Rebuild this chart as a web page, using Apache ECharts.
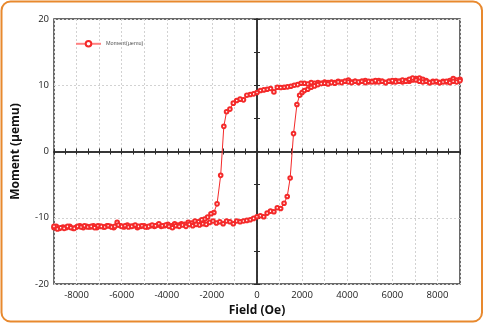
<!DOCTYPE html>
<html>
<head>
<meta charset="utf-8">
<script src="https://cdn.jsdelivr.net/npm/echarts@6/dist/echarts.min.js"></script>
<style>
  html, body { margin: 0; padding: 0; background: #ffffff; }
  #chart { width: 484px; height: 324px; }
</style>
</head>
<body>
<div id="chart"></div>
<script>
// Hysteresis loop: moment vs applied field.
// Descending branch (+9000 Oe -> -9000 Oe)
const upperField = [
  9000, 8850, 8700, 8550, 8400, 8250, 8100, 7950, 7800, 7650,
  7500, 7350, 7200, 7050, 6900, 6750, 6600, 6450, 6300, 6150,
  6000, 5850, 5700, 5550, 5400, 5250, 5100, 4950, 4800, 4650,
  4500, 4350, 4200, 4050, 3900, 3750, 3600, 3450, 3300, 3150,
  3000, 2850, 2700, 2550, 2400, 2250, 2100, 1950, 1800, 1650,
  1500, 1350, 1200, 1050, 900, 750, 600, 450, 300, 150,
  0, -150, -300, -450, -600, -750, -900, -1050, -1200, -1350,
  -1470, -1610, -1770, -1910, -2040, -2190, -2320, -2450, -2600, -2750,
  -2900, -3050, -3200, -3350, -3500, -3650, -3800, -3950, -4100, -4250,
  -4400, -4550, -4700, -4850, -5000, -5150, -5300, -5450, -5600, -5750,
  -5900, -6050, -6200, -6350, -6500, -6650, -6800, -6950, -7100, -7250,
  -7400, -7550, -7700, -7850, -8000, -8150, -8300, -8450, -8600, -8750,
  -8900, -9000
];
const upperMoment = [
  10.9, 10.8, 11.0, 10.7, 10.5, 10.6, 10.4, 10.5, 10.6, 10.4,
  10.7, 10.9, 11.1, 11.0, 10.8, 10.6, 10.7, 10.5, 10.6, 10.7,
  10.5, 10.6, 10.4, 10.6, 10.7, 10.5, 10.6, 10.5, 10.7, 10.6,
  10.4, 10.6, 10.5, 10.8, 10.6, 10.5, 10.6, 10.4, 10.5, 10.4,
  10.5, 10.3, 10.4, 10.3, 10.4, 10.2, 10.3, 10.3, 10.1, 10.0,
  9.85, 9.75, 9.7, 9.65, 9.7, 9.0, 9.5, 9.4, 9.3, 9.2,
  8.9, 8.7, 8.6, 8.5, 7.8, 7.9, 7.7, 7.3, 6.4, 6.0,
  3.8, -3.6, -7.9, -9.2, -9.4, -9.9, -10.2, -10.3, -10.6, -10.5,
  -10.8, -10.7, -11.0, -10.9, -11.1, -10.9, -11.2, -11.0, -11.2, -11.3,
  -11.1, -11.3, -11.2, -11.4, -11.2, -11.3, -11.5, -11.2, -11.3, -11.1,
  -11.4, -11.2, -10.7, -11.5, -11.3, -11.2, -11.4, -11.3, -11.5, -11.2,
  -11.4, -11.3, -11.5, -11.2, -11.4, -11.6, -11.3, -11.5, -11.4, -11.6,
  -11.3, -11.5
];

// Ascending branch (-9000 Oe -> +9000 Oe)
const lowerField = [
  -9000, -8850, -8700, -8550, -8400, -8250, -8100, -7950, -7800, -7650,
  -7500, -7350, -7200, -7050, -6900, -6750, -6600, -6450, -6300, -6150,
  -6000, -5850, -5700, -5550, -5400, -5250, -5100, -4950, -4800, -4650,
  -4500, -4350, -4200, -4050, -3900, -3750, -3600, -3450, -3300, -3150,
  -3000, -2850, -2700, -2550, -2400, -2250, -2100, -1950, -1800, -1650,
  -1500, -1350, -1200, -1050, -900, -750, -600, -450, -300, -150,
  0, 150, 300, 450, 600, 750, 900, 1050, 1200, 1340,
  1470, 1620, 1770, 1890, 2000, 2100, 2250, 2400, 2550, 2700,
  2850, 3000, 3150, 3300, 3450, 3600, 3750, 3900, 4050, 4200,
  4350, 4500, 4650, 4800, 4950, 5100, 5250, 5400, 5550, 5700,
  5850, 6000, 6150, 6300, 6450, 6600, 6750, 6900, 7050, 7200,
  7350, 7500, 7650, 7800, 7950, 8100, 8250, 8400, 8550, 8700,
  8850, 9000
];
const lowerMoment = [
  -11.3, -11.7, -11.5, -11.6, -11.3, -11.5, -11.6, -11.3, -11.4, -11.2,
  -11.4, -11.3, -11.5, -11.2, -11.3, -11.4, -11.2, -11.4, -11.3, -11.1,
  -11.3, -11.2, -11.4, -11.3, -11.1, -11.3, -11.2, -11.4, -11.3, -11.1,
  -11.2, -10.9, -11.2, -11.1, -11.3, -11.5, -11.2, -11.3, -11.1, -11.3,
  -11.0, -11.2, -11.0, -11.1, -10.9, -11.0, -10.7, -10.5, -10.8, -10.6,
  -10.9, -10.5, -10.6, -10.9, -10.5, -10.6, -10.5, -10.4, -10.3, -10.1,
  -9.85, -9.7, -9.85, -9.3, -9.0, -9.1, -8.5, -8.6, -7.8, -6.8,
  -4.0, 2.7, 7.1, 8.5, 8.9, 9.2, 9.4, 9.7, 9.9, 10.1,
  10.25, 10.3, 10.2, 10.4, 10.3, 10.5, 10.4, 10.6, 10.5, 10.4,
  10.6, 10.5, 10.6, 10.4, 10.6, 10.5, 10.7, 10.5, 10.6, 10.4,
  10.6, 10.7, 10.5, 10.6, 10.8, 10.6, 10.9, 11.1, 10.8, 10.6,
  10.5, 10.6, 10.4, 10.5, 10.6, 10.4, 10.5, 10.6, 10.4, 10.6,
  10.5, 10.7
];

const xTickLabels = [-8000, -6000, -4000, -2000, 0, 2000, 4000, 6000, 8000];
const yTickLabels = [-20, -10, 0, 10, 20];
const seriesName = 'Moment(\u03bcemu)';

const loop = [];
upperField.forEach((f, i) => loop.push([f, upperMoment[i]]));
lowerField.forEach((f, i) => loop.push([f, lowerMoment[i]]));

const RED = '#f42a2a';
const AXIS = '#2b2b2b';
const FONT = '"Open Sans", "Liberation Sans", sans-serif';

// Axes that only draw the zero-crossing lines with ticks on both sides
function zeroX(position) {
  return {
    type: 'value', position: position, min: -9000, max: 9000, interval: 500,
    axisLine: { show: true, onZero: true, onZeroAxisIndex: 0, lineStyle: { color: AXIS, width: 1.5 } },
    axisTick: { show: true, length: 3, lineStyle: { color: AXIS, width: 1 } },
    axisLabel: { show: false }, splitLine: { show: false }, silent: true
  };
}
function zeroY(position) {
  return {
    type: 'value', position: position, min: -20, max: 20, interval: 5,
    axisLine: { show: true, onZero: true, onZeroAxisIndex: 0, lineStyle: { color: AXIS, width: 1.5 } },
    axisTick: { show: true, length: 3, lineStyle: { color: AXIS, width: 1 } },
    axisLabel: { show: false }, splitLine: { show: false }, silent: true
  };
}

const chart = echarts.init(document.getElementById('chart'), null, { renderer: 'canvas' });
chart.setOption({
  animation: false,
  backgroundColor: '#ffffff',
  graphic: [{
    type: 'rect', silent: true, z: 100,
    shape: { x: 1.5, y: 1.5, width: 480.5, height: 320, r: 9 },
    style: { fill: null, stroke: '#e8892e', lineWidth: 2 }
  }],
  grid: {
    left: 54, top: 19, width: 406, height: 265,
    show: true, borderColor: '#3a3a3a', borderWidth: 1.5, backgroundColor: 'transparent'
  },
  legend: {
    data: [seriesName], left: 75, top: 40, padding: 0,
    itemWidth: 25, itemHeight: 7, itemGap: 4,
    textStyle: { fontSize: 5.5, color: '#555', fontFamily: '"Liberation Sans", sans-serif' },
    lineStyle: { color: '#ff8080', width: 2, type: 'solid' }
  },
  xAxis: [
    {
      type: 'value', position: 'bottom', min: -9000, max: 9000, interval: 1000,
      name: 'Field (Oe)', nameLocation: 'middle', nameGap: 18,
      nameTextStyle: { fontSize: 12, fontWeight: 'bold', color: '#111', fontFamily: FONT },
      axisLine: { show: false, onZero: false }, axisTick: { show: false },
      axisLabel: {
        margin: 6, fontSize: 9.5, color: '#222', fontFamily: FONT,
        formatter: v => (xTickLabels.indexOf(v) >= 0 ? String(v) : '')
      },
      splitLine: { show: true, lineStyle: { color: '#d2d2d2', type: [2, 2], width: 1 } }
    },
    zeroX('bottom'),
    zeroX('top')
  ],
  yAxis: [
    {
      type: 'value', position: 'left', min: -20, max: 20, interval: 10,
      name: 'Moment (\u03bcemu)', nameLocation: 'middle', nameGap: 32,
      nameTextStyle: { fontSize: 12, fontWeight: 'bold', color: '#111', fontFamily: FONT },
      axisLine: { show: false, onZero: false }, axisTick: { show: false },
      axisLabel: {
        margin: 5, fontSize: 9.5, color: '#222', fontFamily: FONT,
        formatter: v => (yTickLabels.indexOf(v) >= 0 ? String(v) : '')
      },
      splitLine: { show: true, lineStyle: { color: '#d2d2d2', type: [2, 2], width: 1 } }
    },
    zeroY('left'),
    zeroY('right')
  ],
  series: [{
    name: seriesName,
    type: 'line',
    xAxisIndex: 0, yAxisIndex: 0,
    data: loop,
    symbol: 'emptyCircle',
    symbolSize: 3.6,
    showAllSymbol: true,
    lineStyle: { color: RED, width: 1 },
    itemStyle: { color: RED, borderColor: RED, borderWidth: 1 },
    z: 5
  }]
});
</script>
</body>
</html>
